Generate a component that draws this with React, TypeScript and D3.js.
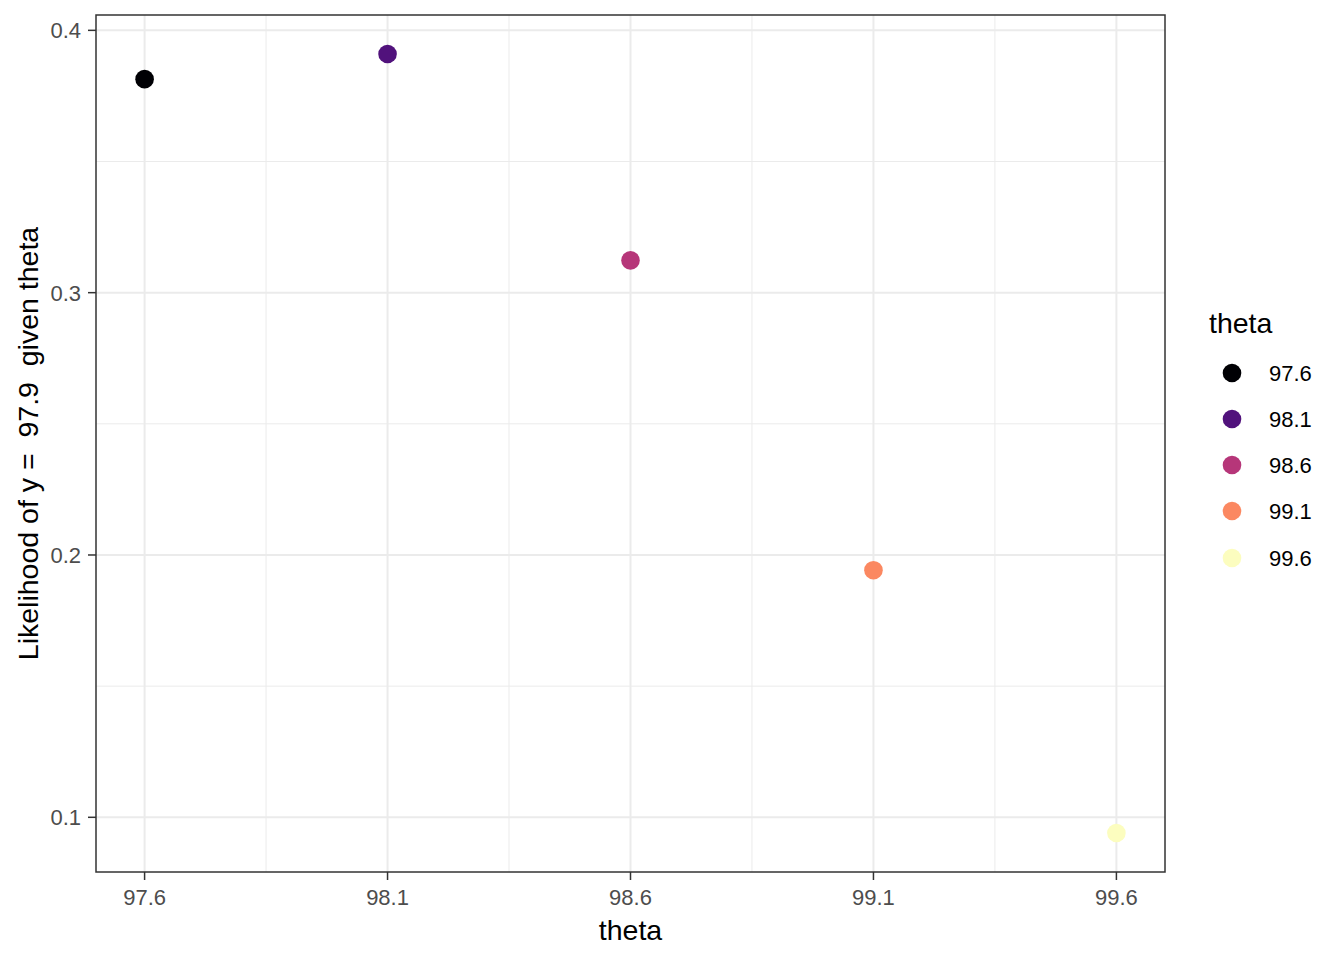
import React from "react";
import * as d3 from "d3";

const thetas = [97.6, 98.1, 98.6, 99.1, 99.6];
const likelihoods = [0.3814, 0.391, 0.3123, 0.1942, 0.094];
const colors = ["#000004", "#51127C", "#B63679", "#FB8861", "#FCFDBF"];
const xTicks = [97.6, 98.1, 98.6, 99.1, 99.6];
const xMinor = [97.85, 98.35, 98.85, 99.35];
const yTicks = [0.1, 0.2, 0.3, 0.4];
const yMinor = [0.15, 0.25, 0.35];

const W = 1344, H = 960;
const L = 96, R = 1165, T = 15, B = 872;
const FONT = "'Liberation Sans', Arial, sans-serif";

export default function App() {
  const xMin = d3.min(thetas)!, xMax = d3.max(thetas)!;
  const xPad = (xMax - xMin) * 0.05;
  const x = d3.scaleLinear().domain([xMin - xPad, xMax + xPad]).range([L, R]);
  const yMin = d3.min(likelihoods)!, yMax = d3.max(likelihoods)!;
  const pad = (yMax - yMin) * 0.05;
  const y = d3.scaleLinear().domain([yMin - pad, yMax + pad]).range([B, T]);
  const legendY = [373, 419, 465, 511, 558];
  return (
    <svg width={W} height={H} style={{ position: "absolute", left: 0, top: 0, background: "#fff" }} fontFamily={FONT}>
      <rect x={0} y={0} width={W} height={H} fill="#fff" />
      {xMinor.map((v) => (
        <line key={"xm" + v} x1={x(v)} x2={x(v)} y1={T} y2={B} stroke="#EBEBEB" strokeWidth={1} />
      ))}
      {yMinor.map((v) => (
        <line key={"ym" + v} x1={L} x2={R} y1={y(v)} y2={y(v)} stroke="#EBEBEB" strokeWidth={1} />
      ))}
      {xTicks.map((v) => (
        <line key={"xg" + v} x1={x(v)} x2={x(v)} y1={T} y2={B} stroke="#EBEBEB" strokeWidth={2} />
      ))}
      {yTicks.map((v) => (
        <line key={"yg" + v} x1={L} x2={R} y1={y(v)} y2={y(v)} stroke="#EBEBEB" strokeWidth={2} />
      ))}
      {thetas.map((t, i) => (
        <circle key={"p" + t} cx={x(t)} cy={y(likelihoods[i])} r={9.3} fill={colors[i]} />
      ))}
      <rect x={L} y={T} width={R - L} height={B - T} fill="none" stroke="#333333" strokeWidth={1.5} />
      {xTicks.map((v) => (
        <g key={"xt" + v}>
          <line x1={x(v)} x2={x(v)} y1={B} y2={B + 8} stroke="#333333" strokeWidth={1.5} />
          <text x={x(v)} y={B + 33} textAnchor="middle" fontSize={22} fill="#4D4D4D">{v.toFixed(1)}</text>
        </g>
      ))}
      {yTicks.map((v) => (
        <g key={"yt" + v}>
          <line x1={L - 8} x2={L} y1={y(v)} y2={y(v)} stroke="#333333" strokeWidth={1.5} />
          <text x={L - 15} y={y(v) + 8} textAnchor="end" fontSize={22} fill="#4D4D4D">{v.toFixed(1)}</text>
        </g>
      ))}
      <text x={(L + R) / 2} y={940} textAnchor="middle" fontSize={28.5} fill="#000">theta</text>
      <text transform={`translate(38,${(T + B) / 2}) rotate(-90)`} textAnchor="middle" fontSize={28.5} fill="#000" style={{ whiteSpace: "pre" }}>
        {"Likelihood of y =  97.9  given theta"}
      </text>
      <text x={1209} y={333} fontSize={28.5} fill="#000">theta</text>
      {thetas.map((t, i) => (
        <g key={"lg" + t}>
          <circle cx={1232} cy={legendY[i]} r={9.3} fill={colors[i]} />
          <text x={1269} y={legendY[i] + 8} fontSize={22} fill="#000">{t.toFixed(1)}</text>
        </g>
      ))}
    </svg>
  );
}
